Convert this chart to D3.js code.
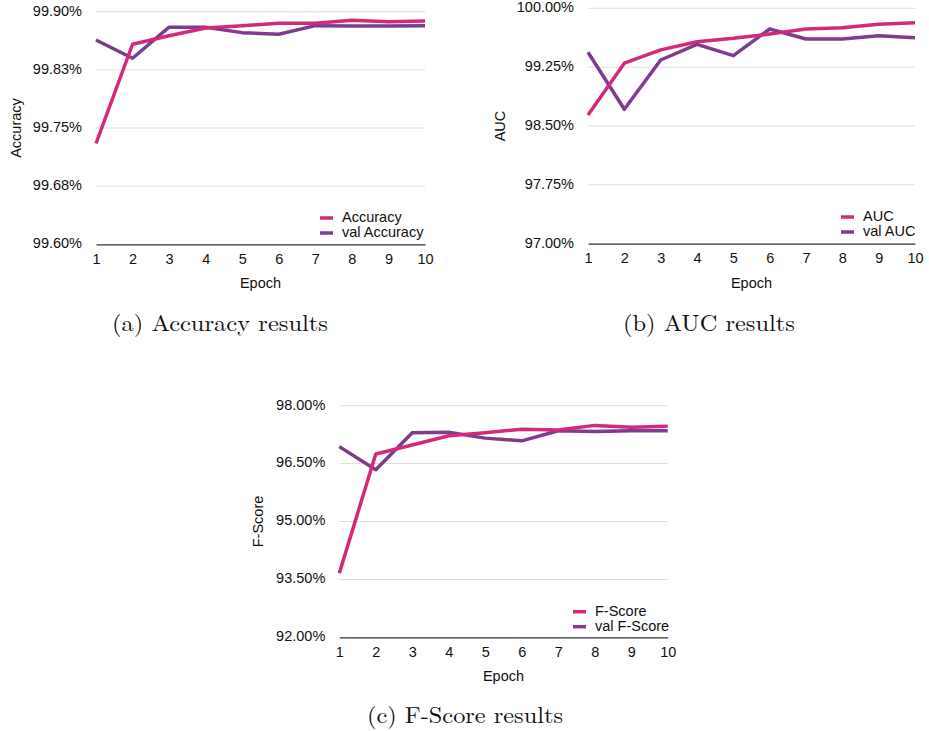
<!DOCTYPE html>
<meta charset="utf-8">
<html>
<head>
<style>
  body { margin: 0; background: #fff; }
  svg text { font-family: "Liberation Sans", Arial, sans-serif; }
</style>
</head>
<body>
<div id="chart"></div>
<script src="https://d3js.org/d3.v7.min.js"></script>
<script>
// epochs shared by all three panels
var epochs = [1, 2, 3, 4, 5, 6, 7, 8, 9, 10]

// values (percent)
var accuracy    = [99.730, 99.858, 99.869, 99.879, 99.882, 99.885, 99.885, 99.889, 99.887, 99.888]
var valAccuracy = [99.8635, 99.840, 99.880, 99.880, 99.873, 99.871, 99.882, 99.8815, 99.8815, 99.882]
var auc         = [98.64, 99.30, 99.47, 99.574, 99.617, 99.672, 99.736, 99.753, 99.796, 99.817]
var valAuc      = [99.44, 98.713, 99.341, 99.541, 99.396, 99.736, 99.609, 99.609, 99.651, 99.626]
var fscore      = [93.66, 96.75, 96.98, 97.22, 97.30, 97.39, 97.37, 97.49, 97.44, 97.47]
var valFscore   = [96.94, 96.34, 97.30, 97.31, 97.16, 97.09, 97.35, 97.33, 97.35, 97.35]

// y tick values and labels
var accTicks = [99.60, 99.675, 99.75, 99.825, 99.90]
var accTickLabels = ["99.60%", "99.68%", "99.75%", "99.83%", "99.90%"]
var aucTicks = [97.00, 97.75, 98.50, 99.25, 100.00]
var aucTickLabels = ["97.00%", "97.75%", "98.50%", "99.25%", "100.00%"]
var fTicks = [92.00, 93.50, 95.00, 96.50, 98.00]
var fTickLabels = ["92.00%", "93.50%", "95.00%", "96.50%", "98.00%"]

var pink = "#d4297a"
var purple = "#7d3c8e"

var svg = d3.select("#chart").append("svg")
  .attr("width", 929)
  .attr("height", 731)

function drawPanel(p) {
  var g = svg.append("g")

  var x = d3.scaleLinear().domain([1, 10]).range([p.x0, p.x1])
  var y = d3.scaleLinear().domain([p.ticks[0], p.ticks[p.ticks.length - 1]]).range([p.yBottom, p.yTop])

  // gridlines
  g.selectAll(".grid")
    .data(p.ticks.slice(1))
    .enter().append("line")
      .attr("x1", p.x0).attr("x2", p.x1)
      .attr("y1", function(d) { return y(d) })
      .attr("y2", function(d) { return y(d) })
      .style("stroke", "#dcdcdc")
      .style("stroke-width", 1)

  // y labels
  g.selectAll(".ylab")
    .data(p.ticks)
    .enter().append("text")
      .attr("x", p.x0 - 14)
      .attr("y", function(d) { return y(d) })
      .attr("text-anchor", "end")
      .attr("dominant-baseline", "middle")
      .style("font-size", "14.5px")
      .style("fill", "#111")
      .text(function(d, i) { return p.tickLabels[i] })

  // x axis
  var xAxis = g.append("g")
    .attr("transform", "translate(0," + p.yBottom + ")")
    .call(d3.axisBottom(x).tickValues(epochs).tickSize(0).tickPadding(9).tickFormat(d3.format("d")))
  xAxis.select(".domain").style("stroke", "#333").style("stroke-width", 1.2)
  xAxis.selectAll("text")
    .style("font-size", "14.5px")
    .style("fill", "#111")
    .style("font-family", "Liberation Sans, Arial, sans-serif")

  g.append("text")
    .attr("x", (p.x0 + p.x1) / 2)
    .attr("y", p.yBottom + 44)
    .attr("text-anchor", "middle")
    .style("font-size", "14.5px")
    .style("fill", "#111")
    .text("Epoch")

  g.append("text")
    .attr("transform", "translate(" + p.yLabelX + "," + ((p.yTop + p.yBottom) / 2) + ") rotate(-90)")
    .attr("text-anchor", "middle")
    .attr("dominant-baseline", "middle")
    .style("font-size", "14.5px")
    .style("fill", "#111")
    .text(p.yName)

  var line = d3.line()
    .x(function(d, i) { return x(epochs[i]) })
    .y(function(d) { return y(d) })

  g.append("path")
    .datum(p.val)
    .attr("d", line)
    .style("fill", "none")
    .style("stroke", purple)
    .style("stroke-width", 3.5)
    .style("stroke-linejoin", "round")

  g.append("path")
    .datum(p.train)
    .attr("d", line)
    .style("fill", "none")
    .style("stroke", pink)
    .style("stroke-width", 3.5)
    .style("stroke-linejoin", "round")

  // legend
  var names = [p.yName, "val " + p.yName]
  var cols = [pink, purple]
  names.forEach(function(n, i) {
    var ly = p.legendY + i * 15
    g.append("line")
      .attr("x1", p.legendX).attr("x2", p.legendX + 13)
      .attr("y1", ly).attr("y2", ly)
      .style("stroke", cols[i])
      .style("stroke-width", 3.5)
    g.append("text")
      .attr("x", p.legendX + 22)
      .attr("y", ly)
      .attr("dominant-baseline", "middle")
      .style("font-size", "14.5px")
      .style("fill", "#111")
      .text(n)
  })

  // caption
  svg.append("text")
    .attr("x", p.captionX)
    .attr("y", p.captionY)
    .attr("textLength", p.captionW)
    .attr("lengthAdjust", "spacingAndGlyphs")
    .style("font-family", "'Latin Modern Roman', 'DejaVu Serif', serif")
    .style("font-size", "23px")
    .style("fill", "#111")
    .text(p.caption)
}

drawPanel({
  x0: 96, x1: 425, yTop: 11.7, yBottom: 244.3,
  ticks: accTicks, tickLabels: accTickLabels,
  train: accuracy, val: valAccuracy, yName: "Accuracy",
  yLabelX: 17, legendX: 320, legendY: 218,
  caption: "(a) Accuracy results", captionX: 112, captionY: 331, captionW: 216
})

drawPanel({
  x0: 588, x1: 915, yTop: 8.3, yBottom: 243.7,
  ticks: aucTicks, tickLabels: aucTickLabels,
  train: auc, val: valAuc, yName: "AUC",
  yLabelX: 501, legendX: 841, legendY: 217,
  caption: "(b) AUC results", captionX: 623, captionY: 331, captionW: 172
})

drawPanel({
  x0: 339.3, x1: 667.7, yTop: 405.7, yBottom: 637.3,
  ticks: fTicks, tickLabels: fTickLabels,
  train: fscore, val: valFscore, yName: "F-Score",
  yLabelX: 259, legendX: 573, legendY: 611.7,
  caption: "(c) F-Score results", captionX: 367, captionY: 723, captionW: 196
})
</script>
</body>
</html>
